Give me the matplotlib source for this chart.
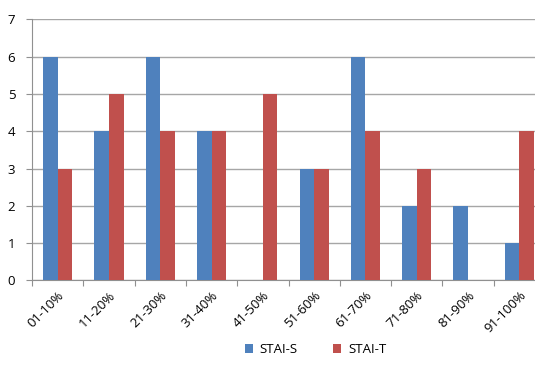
import matplotlib.pyplot as plt
import numpy as np

categories = ['01-10%', '11-20%', '21-30%', '31-40%', '41-50%',
              '51-60%', '61-70%', '71-80%', '81-90%', '91-100%']
stai_s = [6, 4, 6, 4, 0, 3, 6, 2, 2, 1]
stai_t = [3, 5, 4, 4, 5, 3, 4, 3, 0, 4]

plt.rcParams['font.family'] = ['Open Sans', 'DejaVu Sans']

fig = plt.figure(figsize=(5.35, 3.68), dpi=100)
ax = fig.add_axes([32/535, 87.6/368, 513/535, 261/368])

x = np.arange(len(categories))
w = 0.285
ax.bar(x + 0.5 - w/2, stai_s, w, color='#4F81BD', label='STAI-S', zorder=3)
ax.bar(x + 0.5 + w/2, stai_t, w, color='#C0504D', label='STAI-T', zorder=3)

ax.set_xlim(0, len(categories))
ax.set_ylim(0, 7)
ax.set_yticks(range(8))
ax.yaxis.grid(True, color='#A6A6A6', linewidth=1.0, zorder=0)

ax.set_xticks(np.arange(len(categories) + 1))
ax.set_xticklabels([])
ax.set_xticks(x + 0.5, minor=True)
ax.set_xticklabels(categories, minor=True, rotation=45, ha='right',
                   rotation_mode='anchor', fontsize=9.5)
ax.tick_params(axis='x', which='minor', length=0, pad=6)
ax.tick_params(axis='x', which='major', length=4, color='#909090')
ax.tick_params(axis='y', length=4, color='#909090', labelsize=9.5, pad=8)

for s in ['top', 'right']:
    ax.spines[s].set_visible(False)
for s in ['left', 'bottom']:
    ax.spines[s].set_color('#909090')

fig.legend(loc='center', bbox_to_anchor=(0.59, 0.05), ncol=2, frameon=False,
           fontsize=9.5, handlelength=0.6, handleheight=0.6, columnspacing=2.7,
           handletextpad=0.5)

fig.savefig('out.png', dpi=100)
